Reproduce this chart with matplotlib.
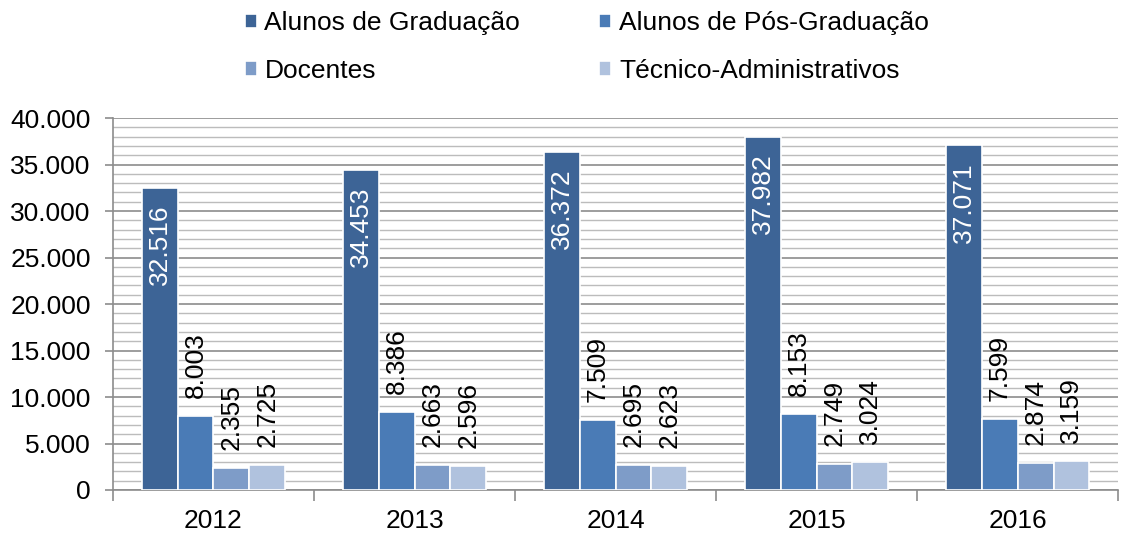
import matplotlib.pyplot as plt
import numpy as np
from matplotlib.ticker import MultipleLocator, FixedLocator

plt.rcParams['font.family'] = ['Liberation Sans', 'DejaVu Sans']

years = ['2012', '2013', '2014', '2015', '2016']
series = ['Alunos de Graduação', 'Alunos de Pós-Graduação', 'Docentes', 'Técnico-Administrativos']
graduacao = [32516, 34453, 36372, 37982, 37071]
pos_graduacao = [8003, 8386, 7509, 8153, 7599]
docentes = [2355, 2663, 2695, 2749, 2874]
tecnicos = [2725, 2596, 2623, 3024, 3159]
colors = ['#3d6496', '#4a7bb6', '#7e9cc8', '#b0c2de']

values = [graduacao, pos_graduacao, docentes, tecnicos]

fig = plt.figure(figsize=(11.33, 5.34), dpi=100)
ax = fig.add_axes([0.0997, 0.0824, 0.8873, 0.6966])

x = np.arange(len(years))
w = 0.178
offsets = (np.arange(4) - 1.5) * w

handles = []
for i, (name, vals) in enumerate(zip(series, values)):
    bars = ax.bar(x + offsets[i], vals, w, color=colors[i], edgecolor='white',
                  linewidth=1.2, label=name, zorder=3)
    handles.append(bars)
    for b, v in zip(bars, vals):
        lbl = f'{v:,}'.replace(',', '.')
        cx = b.get_x() + b.get_width() / 2
        if i == 0:
            ax.annotate(lbl, (cx, v), xytext=(0, -12), textcoords='offset points',
                        rotation=90, ha='center', va='top', color='white',
                        fontsize=19, zorder=4)
        else:
            ax.annotate(lbl, (cx, v), xytext=(0, 13), textcoords='offset points',
                        rotation=90, ha='center', va='bottom', color='black',
                        fontsize=19, zorder=4)

ax.set_xlim(-0.5, len(years) - 0.5)
ax.set_ylim(0, 40000)
ax.yaxis.set_major_locator(MultipleLocator(5000))
ax.yaxis.set_minor_locator(MultipleLocator(1000))
ax.set_yticklabels([f'{int(t):,}'.replace(',', '.') for t in ax.get_yticks()])
ax.grid(which='major', axis='y', color='#8c8c8c', linewidth=1.2, zorder=0)
ax.grid(which='minor', axis='y', color='#bcbcbc', linewidth=1.0, zorder=0)

ax.set_xticks(x)
ax.set_xticklabels(years)
ax.xaxis.set_minor_locator(FixedLocator(np.arange(-0.5, len(years), 1.0)))
ax.tick_params(axis='x', which='major', length=0, pad=14, labelsize=19)
ax.tick_params(axis='x', which='minor', length=8, color='#8c8c8c', width=1.2)
ax.tick_params(axis='y', which='major', length=6, color='#8c8c8c', width=1.2,
               labelsize=19, pad=10)
ax.tick_params(axis='y', which='minor', length=0)

for s in ['top', 'right']:
    ax.spines[s].set_visible(False)
for s in ['left', 'bottom']:
    ax.spines[s].set_color('#8c8c8c')
    ax.spines[s].set_linewidth(1.2)

# legend filled row by row, like the original
order = [0, 2, 1, 3]
fig.legend([handles[k] for k in order], [series[k] for k in order],
           loc='center', bbox_to_anchor=(0.518, 0.912), ncol=2, frameon=False,
           fontsize=19, handlelength=0.45, handleheight=0.45, handletextpad=0.3,
           columnspacing=3.0, labelspacing=0.9)

fig.savefig('out.png', dpi=100)
